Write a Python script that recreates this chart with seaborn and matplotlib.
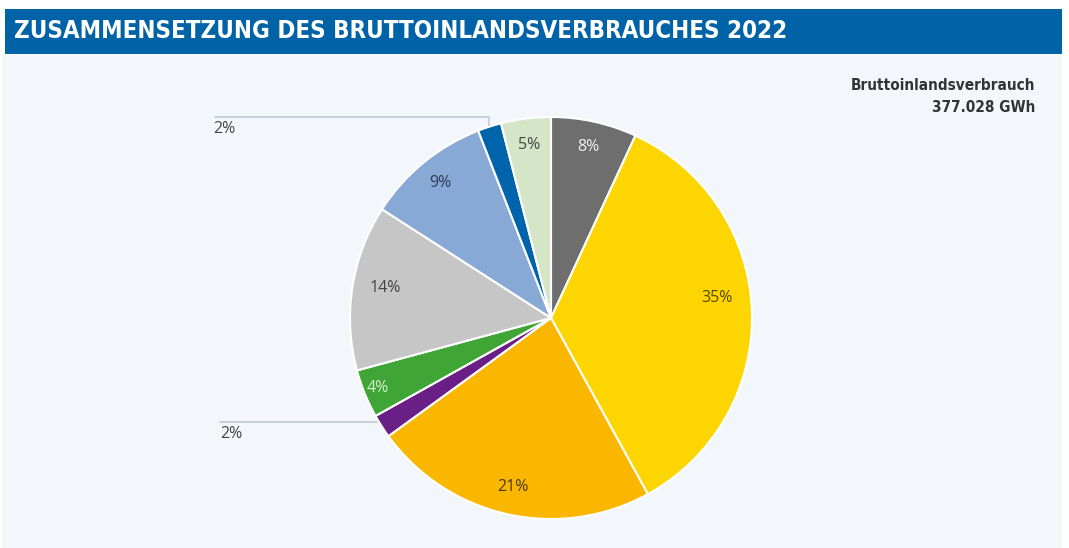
"""
Pie chart: Zusammensetzung des Bruttoinlandsverbrauches 2022
"""
import matplotlib
matplotlib.use("Agg")
import matplotlib.pyplot as plt
from matplotlib.patches import Rectangle
import numpy as np
import seaborn as sns

sns.set_theme(style="white")
plt.rcParams['font.family'] = ['DejaVu Sans']

# data (clockwise from 12 o'clock)
shares = [6.9, 35.1, 23.0, 1.9, 3.9, 13.3, 10.0, 1.9, 4.0]
pct_labels = ["8%", "35%", "21%", "2%", "4%", "14%", "9%", "2%", "5%"]
colors = ["#6e6e6e", "#fdd500", "#fbb700", "#6a1f87", "#3fa535",
          "#c6c6c6", "#88a8d6", "#0064ad", "#d4e5c8"]
label_colors = ["#f0f0f0", "#5a4a00", "#4a3a10", None, "#d8f0d0",
                "#444444", "#2f3d58", None, "#444444"]
outside = [3, 7]  # small slices labelled outside with leader lines

title = "ZUSAMMENSETZUNG DES BRUTTOINLANDSVERBRAUCHES 2022"
total_lines = ["Bruttoinlandsverbrauch", "377.028 GWh"]

W, H = 1069, 548
fig = plt.figure(figsize=(W / 100, H / 100), dpi=100)
fig.patch.set_facecolor("white")

# panel background + title bar
fig.add_artist(Rectangle((2 / W, 0), 1060 / W, (H - 55) / H,
                         transform=fig.transFigure, facecolor="#f3f6fa",
                         edgecolor="none", zorder=0))
fig.add_artist(Rectangle((5 / W, 1 - 54 / H), 1057 / W, 45 / H,
                         transform=fig.transFigure, facecolor="#0063a8",
                         edgecolor="none", zorder=0))
fig.text(14 / W, 1 - 31 / H, title, color="white", fontsize=17.3,
         fontweight="bold", fontstretch="condensed", va="center", ha="left")
fig.text(1035 / W, 1 - 86 / H, total_lines[0], color="#333333",
         fontsize=11, fontweight="bold", fontstretch="condensed",
         ha="right", va="center")
fig.text(1035 / W, 1 - 108 / H, total_lines[1], color="#333333",
         fontsize=11, fontweight="bold", fontstretch="condensed",
         ha="right", va="center")

# axes: 1 data unit = 201 px, pie centre at (551, 318) px
cx, cy, R = 551, 318, 201
ax = fig.add_axes([0, 0, 1, 1])
ax.patch.set_alpha(0)

wedges, _ = ax.pie(shares, colors=colors, startangle=90, counterclock=False,
                   radius=1.0,
                   wedgeprops=dict(edgecolor="white", linewidth=1.5))
ax.set_aspect("auto")
ax.set_xlim(-cx / R, (W - cx) / R)
ax.set_ylim(-(H - cy) / R, cy / R)
ax.axis("off")

# where inside each wedge its label sits (fraction of the wedge, radius)
label_frac = [0.5, 0.54, 0.5, 0.5, 0.5, 0.47, 0.5, 0.5, 0.5]
label_r = [0.87, 0.83, 0.86, 0.87, 0.93, 0.84, 0.87, 0.87, 0.87]

for i, w in enumerate(wedges):
    if i in outside:
        continue
    ang = np.deg2rad(w.theta1 + label_frac[i] * (w.theta2 - w.theta1))
    r = label_r[i]
    ax.text(r * np.cos(ang), r * np.sin(ang), pct_labels[i],
            color=label_colors[i], fontsize=11.5, ha="center", va="center",
            family=["Open Sans", "DejaVu Sans"])

# leader lines for the two 2% slices
line_col = "#c3cad6"
i = outside[1]
w = wedges[i]
ang = np.deg2rad((w.theta1 + w.theta2) / 2)
px, py = np.cos(ang), np.sin(ang)
top_y = 1.0
left_x = (215 - cx) / R
ax.plot([px, px, left_x], [py, top_y, top_y], color=line_col, lw=1.2,
        zorder=0)
ax.text(left_x - 0.01, top_y - 0.02, pct_labels[i], color="#444444",
        fontsize=11.5, ha="left", va="top", family=["Open Sans", "DejaVu Sans"])

i = outside[0]
w = wedges[i]
ang = np.deg2rad((w.theta1 + w.theta2) / 2)
px, py = np.cos(ang), np.sin(ang)
left_x = (220 - cx) / R
ax.plot([px, left_x], [py + 0.02, py + 0.02], color=line_col, lw=1.2,
        zorder=0)
ax.text(left_x, py, pct_labels[i], color="#444444",
        fontsize=11.5, ha="left", va="top", family=["Open Sans", "DejaVu Sans"])

fig.savefig("out.png", dpi=100)
